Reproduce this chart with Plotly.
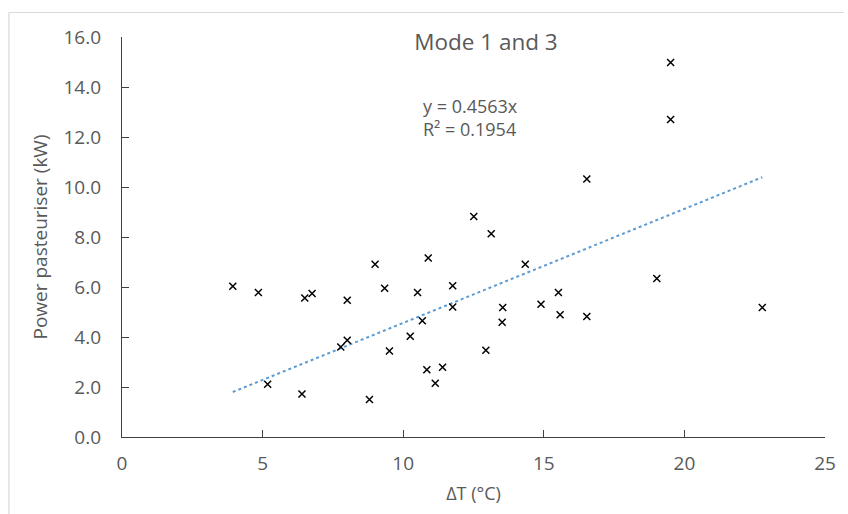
import plotly.graph_objects as go

# Data
delta_t = [3.94, 4.85, 5.18, 6.40, 6.50, 6.76, 7.78, 8.01, 8.01, 8.80,
           9.00, 9.34, 9.51, 10.25, 10.51, 10.68, 10.89, 10.84, 11.14, 11.40,
           11.76, 11.76, 12.51, 13.13, 12.94, 13.54, 13.52, 14.34, 14.90, 15.52,
           15.58, 16.53, 16.53, 19.02, 19.51, 19.51, 22.77]
power_kw = [6.03, 5.78, 2.11, 1.72, 5.56, 5.74, 3.60, 3.87, 5.47, 1.50,
            6.91, 5.95, 3.44, 4.03, 5.78, 4.65, 7.16, 2.69, 2.15, 2.79,
            6.05, 5.20, 8.82, 8.13, 3.47, 5.18, 4.59, 6.91, 5.31, 5.78,
            4.89, 4.82, 10.32, 6.34, 14.98, 12.70, 5.18]

trend_slope = 0.4563
trend_r2 = 0.1954
title_text = "Mode 1 and 3"
x_title = "ΔT (°C)"
y_title = "Power pasteuriser (kW)"

FONT = "Open Sans"
GREY = "#595959"
AXIS = "#404040"

trend_x = [min(delta_t), max(delta_t)]
trend_y = [trend_slope * v for v in trend_x]

fig = go.Figure()
fig.add_trace(go.Scatter(
    x=trend_x, y=trend_y, mode="lines",
    line=dict(color="#5B9BD5", width=2, dash="dot"),
    hoverinfo="skip", showlegend=False))
fig.add_trace(go.Scatter(
    x=delta_t, y=power_kw, mode="markers",
    marker=dict(symbol="x-thin", size=7, color="black",
                line=dict(color="black", width=1.5)),
    showlegend=False))

W, H = 848, 514
L, T = 122, 37
pw, ph = 712, 400
R = W - L - pw
B = H - T - ph

def px_x(p):  # figure pixel -> paper x
    return (p - L) / pw

def px_y(p):  # figure pixel -> paper y
    return (T + ph - p) / ph

fig.update_layout(
    width=W, height=H,
    margin=dict(l=L, r=R, t=T, b=B),
    paper_bgcolor="white", plot_bgcolor="white",
    font=dict(family=FONT, color=GREY, size=16),
    title=dict(text=title_text, x=486 / W, xanchor="center",
               y=1 - 42 / H, yanchor="middle", yref="container",
               font=dict(family=FONT, size=22.5, color=GREY)),
    xaxis=dict(range=[0, 25], dtick=5, tick0=0, showgrid=False, zeroline=False,
               showline=True, linecolor=AXIS, linewidth=1.3,
               ticks="inside", ticklen=7, tickcolor=AXIS, tickwidth=1.3,
               ticklabelstandoff=9,
               tickfont=dict(family=FONT, size=19, color=GREY),
               title=dict(text=x_title, standoff=12,
                          font=dict(family=FONT, size=18, color=GREY))),
    yaxis=dict(range=[0, 16], dtick=2, tick0=0, tickformat=".1f",
               showgrid=False, zeroline=False,
               showline=True, linecolor=AXIS, linewidth=1.3,
               ticks="inside", ticklen=7, tickcolor=AXIS, tickwidth=1.3,
               ticklabelstandoff=16,
               tickfont=dict(family=FONT, size=19, color=GREY),
               title=dict(text=y_title, standoff=10,
                          font=dict(family=FONT, size=19, color=GREY))),
    annotations=[
        dict(text=f"y = {trend_slope}x<br>R² = {trend_r2}",
             xref="paper", yref="paper", x=px_x(425), y=px_y(117.5),
             xanchor="left", yanchor="middle", align="left", showarrow=False,
             font=dict(family=FONT, size=18, color=GREY)),
    ],
    shapes=[
        dict(type="line", xref="paper", yref="paper",
             x0=px_x(7.5), x1=px_x(W + 5), y0=px_y(12.5), y1=px_y(12.5),
             line=dict(color="#d9d9d9", width=1.2), layer="above"),
        dict(type="line", xref="paper", yref="paper",
             x0=px_x(7.5), x1=px_x(7.5), y0=px_y(12.5), y1=px_y(H + 5),
             line=dict(color="#d9d9d9", width=1.2), layer="above"),
    ],
)

fig.write_html("out.html",
               config={"displayModeBar": False},
               post_script="document.body.style.margin='0';"
                           "document.body.style.overflow='hidden';")
